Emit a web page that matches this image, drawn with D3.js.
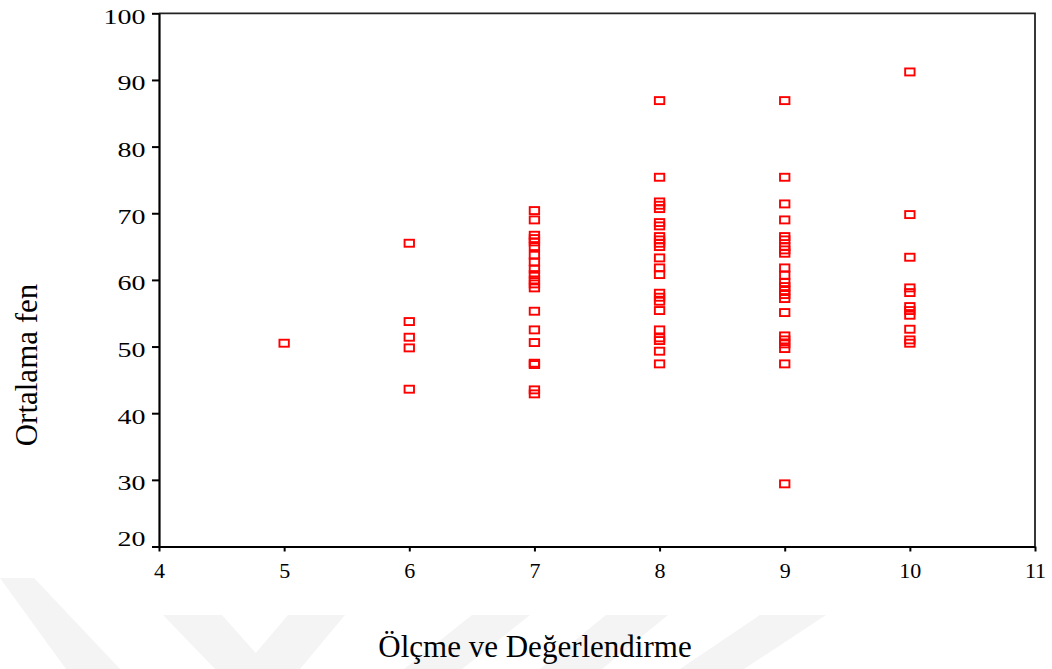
<!DOCTYPE html>
<html>
<head>
<meta charset="utf-8">
<script src="https://cdn.jsdelivr.net/npm/d3@7"></script>
<style>
  html, body { margin: 0; padding: 0; background: #fff; }
  svg { display: block; }
</style>
</head>
<body>
<svg id="chart" width="1052" height="669"></svg>
<script>
// ---- data ----
const groups = [5, 6, 7, 8, 9, 10];
const scores5 = [50.5];
const scores6 = [65.5, 53.75, 51.4, 49.8, 43.6];
const scores7 = [70.4, 69.0, 66.7, 66.2, 65.7, 65.0, 63.7, 62.7, 61.6, 60.8, 60.0, 59.4, 58.8, 55.3, 52.5, 50.6, 47.5, 47.3, 43.5, 42.9];
const scores8 = [86.9, 75.4, 71.7, 71.2, 70.7, 68.6, 68.1, 66.5, 66.0, 65.5, 65.0, 63.3, 61.8, 60.8, 58.0, 57.4, 56.8, 55.4, 52.5, 51.3, 50.9, 49.3, 47.4];
const scores9 = [86.9, 75.4, 71.4, 69.0, 66.5, 66.0, 65.0, 64.5, 64.0, 61.8, 60.7, 59.6, 59.0, 58.4, 57.8, 57.2, 55.1, 51.6, 51.0, 50.4, 49.7, 47.4, 29.4];
const scores10 = [91.2, 69.8, 63.4, 58.8, 58.1, 56.0, 55.4, 54.7, 52.6, 51.0, 50.5];
const xTicks = [4, 5, 6, 7, 8, 9, 10, 11];
const yTicks = [20, 30, 40, 50, 60, 70, 80, 90, 100];
const xTitle = "Ölçme ve Değerlendirme";
const yTitle = "Ortalama fen";

const allScores = [scores5, scores6, scores7, scores8, scores9, scores10];
const points = [];
groups.forEach((g, i) => allScores[i].forEach(v => points.push({ x: g, y: v })));

// ---- layout ----
const svg = d3.select("#chart");
const plotL = 159, plotR = 1035, plotT = 13.3, plotB = 546.5;
const x = d3.scaleLinear().domain([4, 11]).range([plotL, plotR]);
const y = d3.scaleLinear().domain([20, 100]).range([plotB, plotT]);

// faint watermark stripes
const wm = svg.append("g").attr("fill", "#f4f4f4");
const stripes = [
  [[0, 578], [34, 578], [120, 669], [66, 669]],
  [[163, 615], [222, 615], [270, 669], [215, 669]],
  [[288, 615], [345, 615], [300, 669], [242, 669]],
  [[472, 615], [530, 615], [462, 669], [404, 669]],
  [[606, 615], [668, 615], [602, 669], [540, 669]],
  [[760, 615], [826, 615], [744, 669], [680, 669]]
];
stripes.forEach(p => wm.append("polygon").attr("points", p.map(d => d.join(",")).join(" ")));

// frame (top and right)
svg.append("path")
  .attr("d", `M${plotL},${plotT}H${plotR}V${plotB}`)
  .attr("fill", "none").attr("stroke", "#222").attr("stroke-width", 1.8);

// y axis
const yAxis = svg.append("g").attr("transform", `translate(${plotL},0)`)
  .call(d3.axisLeft(y).tickValues(yTicks).tickSize(7).tickSizeOuter(0).tickFormat(d3.format("d")));
yAxis.select(".domain").attr("stroke", "#000").attr("stroke-width", 2.2);
yAxis.selectAll(".tick line").attr("stroke", "#000").attr("stroke-width", 2);
yAxis.selectAll(".tick text")
  .attr("font-family", "'Liberation Serif', 'Times New Roman', serif")
  .attr("font-size", 20).attr("fill", "#000")
  .attr("x", 0).attr("dy", null)
  .attr("text-anchor", "end")
  .attr("transform", d => `translate(-13.5, ${d === 20 ? -1.5 : 10}) scale(1.4,1)`);

// x axis
const xAxis = svg.append("g").attr("transform", `translate(0,${plotB})`)
  .call(d3.axisBottom(x).tickValues(xTicks).tickSize(5).tickSizeOuter(0).tickFormat(d3.format("d")));
xAxis.select(".domain").attr("stroke", "#000").attr("stroke-width", 2.2);
xAxis.selectAll(".tick line").attr("stroke", "#000").attr("stroke-width", 2);
xAxis.selectAll(".tick text")
  .attr("font-family", "'Liberation Serif', 'Times New Roman', serif")
  .attr("font-size", 22).attr("fill", "#000")
  .attr("y", 31).attr("dy", null);

// points
svg.append("g").selectAll("rect").data(points).join("rect")
  .attr("x", d => x(d.x) - 4.7)
  .attr("y", d => y(d.y) - 3.5)
  .attr("width", 9.4).attr("height", 7)
  .attr("fill", "none").attr("stroke", "#ff0000").attr("stroke-width", 1.9);

// titles
svg.append("text")
  .attr("x", 535).attr("y", 657)
  .attr("text-anchor", "middle")
  .attr("font-family", "'Liberation Serif', 'Times New Roman', serif")
  .attr("font-size", 31).attr("fill", "#000")
  .text(xTitle);

svg.append("text")
  .attr("transform", "translate(37,365) rotate(-90)")
  .attr("text-anchor", "middle")
  .attr("font-family", "'Liberation Serif', 'Times New Roman', serif")
  .attr("font-size", 31).attr("fill", "#000")
  .text(yTitle);
</script>
</body>
</html>
